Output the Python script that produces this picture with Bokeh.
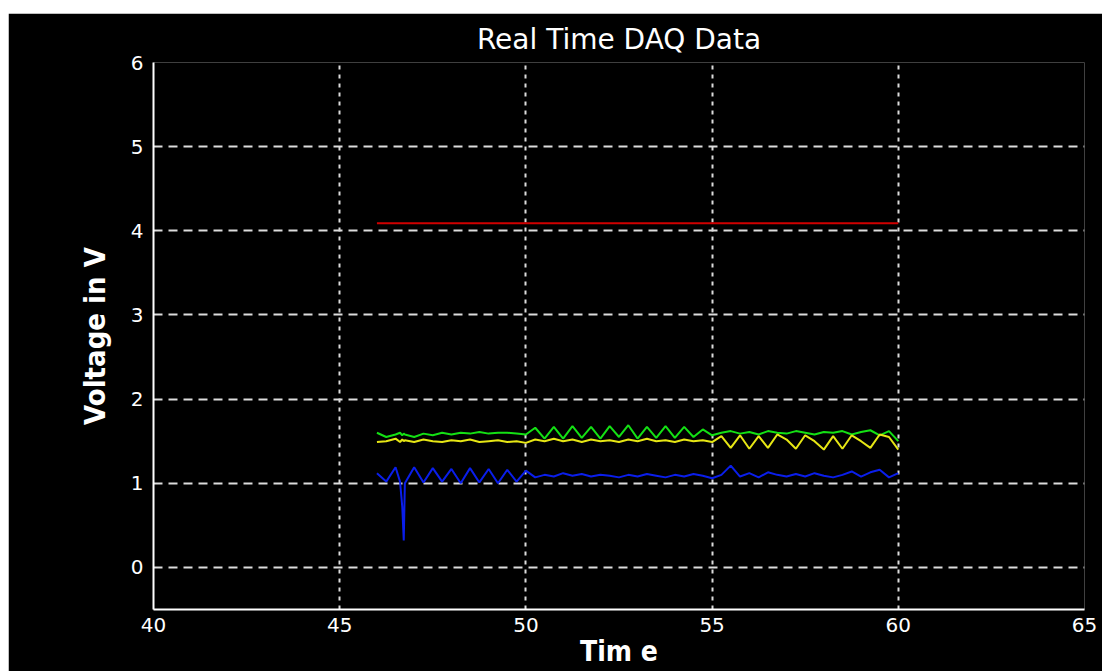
from bokeh.plotting import figure
from bokeh.models import Range1d, FixedTicker, Spacer
from bokeh.layouts import column, row
from bokeh.embed import file_html
from bokeh.resources import INLINE

# ---- data ----
time_s = [46.0, 46.25, 46.5, 46.62, 46.68, 46.72, 46.75, 47.0, 47.25, 47.5,
          47.75, 48.0, 48.25, 48.5, 48.75, 49.0, 49.25, 49.5, 49.75, 50.0,
          50.25, 50.5, 50.75, 51.0, 51.25, 51.5, 51.75, 52.0, 52.25, 52.5,
          52.75, 53.0, 53.25, 53.5, 53.75, 54.0, 54.25, 54.5, 54.75, 55.0,
          55.25, 55.5, 55.75, 56.0, 56.25, 56.5, 56.75, 57.0, 57.25, 57.5,
          57.75, 58.0, 58.25, 58.5, 58.75, 59.0, 59.25, 59.5, 59.75, 60.0]

blue_v = [1.12, 1.02, 1.19, 1.02, 0.72, 0.32, 1.00, 1.19, 1.01, 1.18,
          1.02, 1.17, 1.00, 1.18, 1.01, 1.17, 1.00, 1.16, 1.02, 1.15,
          1.07, 1.10, 1.08, 1.12, 1.09, 1.11, 1.08, 1.10, 1.09, 1.07,
          1.10, 1.08, 1.11, 1.09, 1.07, 1.10, 1.08, 1.11, 1.09, 1.06,
          1.10, 1.21, 1.08, 1.12, 1.07, 1.13, 1.10, 1.08, 1.11, 1.08,
          1.12, 1.09, 1.07, 1.10, 1.14, 1.08, 1.13, 1.16, 1.07, 1.12]

green_v = [1.60, 1.55, 1.58, 1.60, 1.57, 1.59, 1.58, 1.55, 1.59, 1.57,
           1.60, 1.58, 1.60, 1.59, 1.61, 1.59, 1.60, 1.60, 1.59, 1.58,
           1.66, 1.53, 1.67, 1.53, 1.68, 1.54, 1.67, 1.53, 1.68, 1.55,
           1.69, 1.53, 1.67, 1.54, 1.68, 1.54, 1.67, 1.55, 1.64, 1.57,
           1.60, 1.62, 1.59, 1.61, 1.58, 1.62, 1.60, 1.59, 1.62, 1.60,
           1.58, 1.61, 1.60, 1.62, 1.58, 1.61, 1.63, 1.57, 1.62, 1.50]

yellow_v = [1.49, 1.50, 1.53, 1.49, 1.52, 1.50, 1.51, 1.49, 1.52, 1.50,
            1.49, 1.51, 1.50, 1.52, 1.49, 1.50, 1.51, 1.49, 1.50, 1.48,
            1.52, 1.50, 1.53, 1.50, 1.52, 1.49, 1.52, 1.50, 1.51, 1.49,
            1.52, 1.50, 1.53, 1.50, 1.51, 1.49, 1.52, 1.50, 1.51, 1.49,
            1.56, 1.42, 1.57, 1.41, 1.56, 1.42, 1.58, 1.52, 1.41, 1.57,
            1.50, 1.40, 1.56, 1.41, 1.57, 1.50, 1.42, 1.58, 1.55, 1.40]

red_t = [46.0, 60.0]
red_v = [4.09, 4.09]

x_ticks = [40, 45, 50, 55, 60, 65]
y_ticks = [0, 1, 2, 3, 4, 5, 6]

title_text = "Real Time DAQ Data"
x_label = "Tim e"
y_label = "Voltage in V"

# ---- figure ----
p = figure(width=1094, height=658,
           x_range=Range1d(40, 65), y_range=Range1d(-0.5, 6),
           output_backend="svg", toolbar_location=None, title=title_text)

p.background_fill_color = "black"
p.border_fill_color = "black"
p.outline_line_color = None
p.min_border_left = 145
p.min_border_right = 18
p.min_border_top = 49
p.min_border_bottom = 62

p.title.text_color = "white"
p.title.text_font = "DejaVu Sans"
p.title.text_font_size = "28px"
p.title.text_font_style = "normal"
p.title.align = "center"
p.title.standoff = 13

narrow = "'Liberation Sans Narrow', 'DejaVu Sans Condensed', sans-serif"

for ax in (p.xaxis[0], p.yaxis[0]):
    ax.axis_line_color = "white"
    ax.axis_line_width = 2
    ax.major_tick_line_color = None
    ax.minor_tick_line_color = None
    ax.major_tick_out = 0
    ax.major_tick_in = 0
    ax.major_label_text_color = "white"
    ax.major_label_text_font = "DejaVu Sans"
    ax.major_label_text_font_size = "20px"
    ax.axis_label_text_color = "white"
    ax.axis_label_text_font = narrow
    ax.axis_label_text_font_style = "bold"

p.xaxis.ticker = FixedTicker(ticks=x_ticks)
p.yaxis.ticker = FixedTicker(ticks=y_ticks)
p.xaxis.axis_label = x_label
p.yaxis.axis_label = y_label
p.xaxis.major_label_standoff = 8
p.xaxis.axis_label_standoff = 0
p.xaxis.axis_label_text_font_size = "28px"
p.yaxis.major_label_standoff = 10
p.yaxis.axis_label_standoff = 16
p.yaxis.axis_label_text_font_size = "29px"

p.xgrid.grid_line_color = "#dcdcdc"
p.xgrid.grid_line_width = 2
p.xgrid.grid_line_dash = "4 5"
p.ygrid.grid_line_color = "#dcdcdc"
p.ygrid.grid_line_width = 2
p.ygrid.grid_line_dash = "9 6"

p.line(red_t, red_v, line_color="#d00000", line_width=2)
p.line(time_s, blue_v, line_color="#0a1eeb", line_width=2)
p.line(time_s, green_v, line_color="#14e014", line_width=2)
p.line(time_s, yellow_v, line_color="#e6e614", line_width=2)

layout = column(Spacer(height=13), row(Spacer(width=8), p))

open("out.html", "w").write(file_html(layout, INLINE))
